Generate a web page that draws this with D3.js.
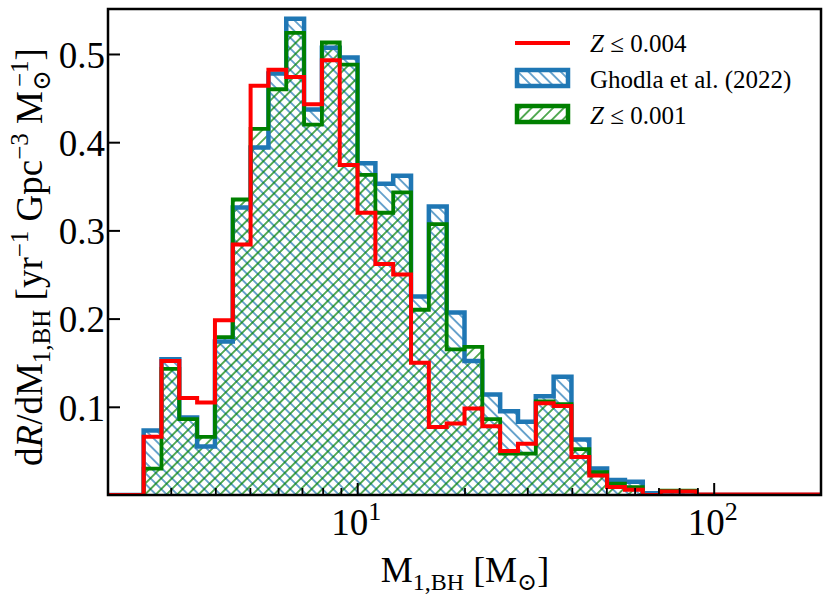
<!DOCTYPE html>
<html>
<head>
<meta charset="utf-8">
<script src="https://cdn.jsdelivr.net/npm/d3@7"></script>
<style>
  body { margin: 0; background: #fff; }
  svg text { font-family: "Liberation Serif", "DejaVu Serif", serif; fill: #000; }
</style>
</head>
<body>
<svg id="chart" width="830" height="596"></svg>
<script>
// histogram binning: 40 log-spaced bins between 2 and 200 Msun
var binLo = 2, binHi = 200, nBins = 40;

// dR/dM per bin
var redValues = [0, 0, 0.066, 0.152, 0.110, 0.105, 0.198, 0.284, 0.464, 0.482,
    0.474, 0.443, 0.493, 0.374, 0.320, 0.262, 0.250, 0.150, 0.077, 0.081,
    0.098, 0.078, 0.050, 0.058, 0.104, 0.101, 0.043, 0.022, 0.009, 0.006,
    0.000, 0.004, 0.004, 0.0005, 0.0005, 0.0005, 0.0005, 0.0005, 0.0005, 0.0005];
var ghodlaValues = [0, 0, 0.073, 0.154, 0.088, 0.055, 0.174, 0.326, 0.394, 0.478,
    0.540, 0.437, 0.507, 0.496, 0.376, 0.353, 0.362, 0.225, 0.327, 0.207,
    0.152, 0.114, 0.095, 0.083, 0.112, 0.134, 0.063, 0.030, 0.017, 0.015,
    0.002, 0.004, 0.004, 0, 0, 0, 0, 0, 0, 0];
var greenValues = [0, 0, 0.030, 0.143, 0.086, 0.066, 0.179, 0.335, 0.415, 0.460,
    0.524, 0.420, 0.513, 0.488, 0.363, 0.320, 0.343, 0.210, 0.307, 0.165,
    0.168, 0.086, 0.047, 0.047, 0.106, 0.103, 0.052, 0.026, 0.013, 0.009,
    0.000, 0.005, 0.005, 0, 0, 0, 0, 0, 0, 0];

var yTicks = [0.1, 0.2, 0.3, 0.4, 0.5];
var xMajor = [10, 100];
var xMajorLabels = ['1', '2'];
var legendLabels = ['Z ≤ 0.004', 'Ghodla et al. (2022)', 'Z ≤ 0.001'];

var margin = { top: 9, left: 108, right: 9, bottom: 101 };
var width = 830, height = 596;

var svg = d3.select('#chart');

var x = d3.scaleLog()
    .domain([binLo, binHi])
    .range([margin.left, width - margin.right]);
var y = d3.scaleLinear()
    .domain([0, 0.551])
    .range([height - margin.bottom, margin.top]);

var step = (Math.log10(binHi) - Math.log10(binLo)) / nBins;
var edges = d3.range(nBins + 1).map(function (i) {
    return Math.pow(10, Math.log10(binLo) + i * step);
});

function stepPoints(values) {
    var pts = [[edges[0], 0]];
    values.forEach(function (v, i) {
        pts.push([edges[i], v]);
        pts.push([edges[i + 1], v]);
    });
    pts.push([edges[nBins], 0]);
    return pts;
}

var line = d3.line()
    .x(function (d) { return x(d[0]); })
    .y(function (d) { return y(d[1]); });

// hatch patterns
var defs = svg.append('defs');
function hatch(id, color, angle, gap) {
    var p = defs.append('pattern')
        .attr('id', id)
        .attr('patternUnits', 'userSpaceOnUse')
        .attr('width', gap)
        .attr('height', gap)
        .attr('patternTransform', 'rotate(' + angle + ')');
    p.append('line')
        .attr('x1', gap / 2).attr('y1', -1)
        .attr('x2', gap / 2).attr('y2', gap + 1)
        .attr('stroke', color)
        .attr('stroke-width', 1.3);
}
hatch('hatchBlue', '#1f77b4', -45, 7.6);
hatch('hatchGreen', '#008000', 45, 7.6);

defs.append('clipPath').attr('id', 'plotClip')
    .append('rect')
    .attr('x', margin.left).attr('y', margin.top)
    .attr('width', width - margin.left - margin.right)
    .attr('height', height - margin.top - margin.bottom);

var plot = svg.append('g').attr('clip-path', 'url(#plotClip)');

var series = [
    { values: ghodlaValues, color: '#1f77b4', fill: 'url(#hatchBlue)', lw: 4.5 },
    { values: greenValues, color: '#008000', fill: 'url(#hatchGreen)', lw: 3.8 },
    { values: redValues, color: '#ff0000', fill: null, lw: 4 }
];

series.forEach(function (s) {
    var pts = stepPoints(s.values);
    if (s.fill) {
        plot.append('path')
            .attr('d', line(pts) + 'Z')
            .attr('fill', s.fill)
            .attr('stroke', 'none');
    }
});
series.forEach(function (s) {
    plot.append('path')
        .attr('d', line(stepPoints(s.values)))
        .attr('fill', 'none')
        .attr('stroke', s.color)
        .attr('stroke-width', s.lw)
        .attr('stroke-linejoin', 'miter');
});

// axes (ticks inside)
var yAxis = d3.axisLeft(y)
    .tickValues(yTicks)
    .tickSize(-12)
    .tickPadding(3)
    .tickFormat(d3.format('.1f'));
var gy = svg.append('g')
    .attr('transform', 'translate(' + margin.left + ',0)')
    .call(yAxis);
gy.select('.domain').remove();
gy.selectAll('line').attr('stroke-width', 2);
gy.selectAll('text')
    .attr('font-size', 37)
    .attr('dy', '0.36em');

var minor = [];
[1, 10, 100].forEach(function (dec) {
    d3.range(2, 10).forEach(function (m) {
        var v = dec * m;
        if (v > binLo && v < binHi) minor.push(v);
    });
});
var gxMinor = svg.append('g')
    .attr('transform', 'translate(0,' + (height - margin.bottom) + ')')
    .call(d3.axisBottom(x).tickValues(minor).tickSize(-7).tickFormat(''));
gxMinor.select('.domain').remove();
gxMinor.selectAll('line').attr('stroke-width', 1.8);

var gx = svg.append('g')
    .attr('transform', 'translate(0,' + (height - margin.bottom) + ')')
    .call(d3.axisBottom(x).tickValues(xMajor).tickSize(-12).tickFormat(''));
gx.select('.domain').remove();
gx.selectAll('line').attr('stroke-width', 2);

// major tick labels as 10^n
xMajor.forEach(function (v, i) {
    var t = svg.append('text')
        .attr('x', x(v) - 1)
        .attr('y', 535)
        .attr('text-anchor', 'middle')
        .attr('font-size', 37);
    t.append('tspan').text('10');
    t.append('tspan').attr('dy', -15).attr('font-size', 26).text(xMajorLabels[i]);
});

// frame
svg.append('rect')
    .attr('x', margin.left).attr('y', margin.top)
    .attr('width', width - margin.left - margin.right)
    .attr('height', height - margin.top - margin.bottom)
    .attr('fill', 'none')
    .attr('stroke', '#000')
    .attr('stroke-width', 2.5);

// x label
var xl = svg.append('text')
    .attr('x', 465).attr('y', 582)
    .attr('text-anchor', 'middle')
    .attr('font-size', 36);
xl.append('tspan').text('M');
xl.append('tspan').attr('dy', 8).attr('font-size', 24).text('1,BH');
xl.append('tspan').attr('dy', -8).text(' [M');
xl.append('tspan').attr('dy', 8).attr('font-size', 24).text('⊙');
xl.append('tspan').attr('dy', -8).text(']');

// y label
var yl = svg.append('text')
    .attr('transform', 'translate(42,' + 257 + ') rotate(-90)')
    .attr('text-anchor', 'middle')
    .attr('font-size', 37);
yl.append('tspan').text('d');
yl.append('tspan').attr('font-style', 'italic').text('R');
yl.append('tspan').text('/dM');
yl.append('tspan').attr('dy', 8).attr('font-size', 25).text('1,BH');
yl.append('tspan').attr('dy', -8).text(' [yr');
yl.append('tspan').attr('dy', -14).attr('font-size', 25).text('−1');
yl.append('tspan').attr('dy', 14).text(' Gpc');
yl.append('tspan').attr('dy', -14).attr('font-size', 25).text('−3');
yl.append('tspan').attr('dy', 14).text(' M');
yl.append('tspan').attr('dy', 8).attr('font-size', 25).text('⊙');
yl.append('tspan').attr('dx', -17).attr('dy', -22).attr('font-size', 25).text('−1');
yl.append('tspan').attr('dy', 14).text(']');

// legend
var legend = svg.append('g');
var lx = 515, lw = 55;
legend.append('line')
    .attr('x1', lx).attr('x2', lx + lw)
    .attr('y1', 43).attr('y2', 43)
    .attr('stroke', '#ff0000').attr('stroke-width', 4);
legend.append('rect')
    .attr('x', lx + 2).attr('y', 70).attr('width', lw - 4).attr('height', 16)
    .attr('fill', 'url(#hatchBlue)')
    .attr('stroke', '#1f77b4').attr('stroke-width', 4.5);
legend.append('rect')
    .attr('x', lx + 2).attr('y', 106).attr('width', lw - 4).attr('height', 16)
    .attr('fill', 'url(#hatchGreen)')
    .attr('stroke', '#008000').attr('stroke-width', 4.5);

var ly = [52, 88, 124];
legendLabels.forEach(function (lab, i) {
    var t = legend.append('text')
        .attr('x', 590).attr('y', ly[i])
        .attr('font-size', 25);
    if (lab.charAt(0) === 'Z') {
        t.append('tspan').attr('font-style', 'italic').text('Z');
        t.append('tspan').text(lab.slice(1));
    } else {
        t.text(lab);
    }
});
</script>
</body>
</html>
